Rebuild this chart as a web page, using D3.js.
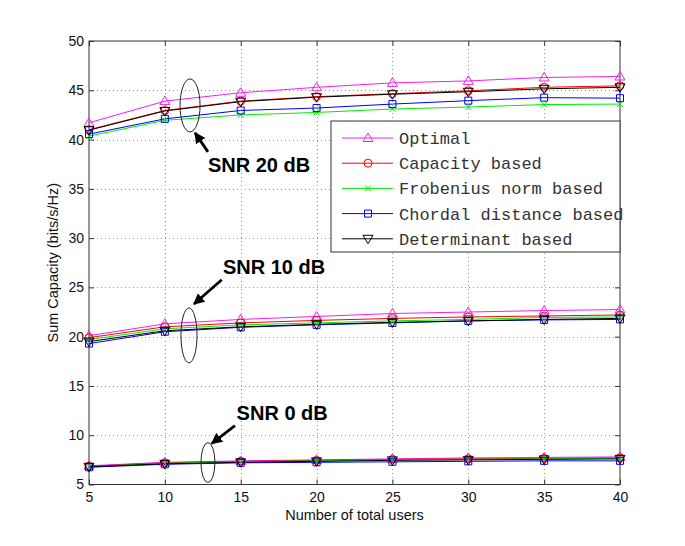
<!DOCTYPE html>
<html><head><meta charset="utf-8">
<script src="https://cdn.jsdelivr.net/npm/d3@7"></script>
<style>body{margin:0;background:#fff}svg{display:block}</style>
</head><body><div id="chart"></div>
<script>
// ---- data ----
const users = [5, 10, 15, 20, 25, 30, 35, 40];
const xTicks = [5, 10, 15, 20, 25, 30, 35, 40];
const yTicks = [5, 10, 15, 20, 25, 30, 35, 40, 45, 50];
const seriesNames = ["Optimal", "Capacity based", "Frobenius norm based", "Chordal distance based", "Determinant based"];
const seriesColors = ["#f020f0", "#ff0000", "#00ee00", "#0000ff", "#000000"];
const seriesSymbols = ["triUp", "circle", "x", "square", "triDown"];

// SNR 20 dB
const optimal20 = [41.7, 43.9, 44.75, 45.3, 45.75, 45.95, 46.3, 46.4];
const capacity20 = [41.0, 42.95, 43.9, 44.35, 44.65, 44.95, 45.3, 45.45];
const frobenius20 = [40.35, 41.95, 42.5, 42.75, 43.1, 43.3, 43.55, 43.6];
const chordal20 = [40.55, 42.1, 42.95, 43.2, 43.6, 43.95, 44.25, 44.2];
const determinant20 = [40.95, 42.9, 43.85, 44.3, 44.6, 44.85, 45.15, 45.3];
// SNR 10 dB
const optimal10 = [20.1, 21.3, 21.75, 22.05, 22.35, 22.5, 22.65, 22.75];
const capacity10 = [19.9, 21.0, 21.4, 21.65, 21.85, 22.0, 22.1, 22.2];
const frobenius10 = [19.7, 20.8, 21.2, 21.4, 21.6, 21.75, 21.95, 22.0];
const chordal10 = [19.3, 20.5, 20.95, 21.2, 21.4, 21.6, 21.7, 21.75];
const determinant10 = [19.5, 20.6, 21.0, 21.25, 21.45, 21.6, 21.75, 21.85];
// SNR 0 dB
const optimal0 = [6.9, 7.25, 7.4, 7.5, 7.6, 7.7, 7.75, 7.8];
const capacity0 = [6.85, 7.2, 7.35, 7.45, 7.55, 7.6, 7.65, 7.7];
const frobenius0 = [6.8, 7.15, 7.3, 7.4, 7.5, 7.55, 7.6, 7.65];
const chordal0 = [6.75, 7.05, 7.2, 7.25, 7.3, 7.35, 7.4, 7.4];
const determinant0 = [6.8, 7.1, 7.25, 7.35, 7.45, 7.5, 7.55, 7.6];

// annotations (data coordinates)
const annotLabels = ["SNR 20 dB", "SNR 10 dB", "SNR 0 dB"];
const annotTextPos = [[12.84, 36.75], [13.83, 26.36], [14.73, 11.59]];
const ellipseCenters = [[11.66, 43.46], [11.59, 20.13], [12.84, 7.23]];
const ellipseRadii = [[0.66, 2.69], [0.53, 2.79], [0.46, 2.03]];
const arrowTails = [[12.84, 38.75], [13.75, 25.78], [14.62, 10.98]];
const arrowTips = [[11.99, 40.68], [11.92, 23.31], [13.09, 9.16]];

const groups = [
  [optimal20, capacity20, frobenius20, chordal20, determinant20],
  [optimal10, capacity10, frobenius10, chordal10, determinant10],
  [optimal0, capacity0, frobenius0, chordal0, determinant0]
];

// ---- layout ----
const W = 685, H = 546;
const L = 89, R = 620, T = 41, B = 484.5;
const svg = d3.select("#chart").append("svg").attr("width", W).attr("height", H)
  .style("font-family", "'Liberation Sans', Arial, sans-serif");
const x = d3.scaleLinear().domain([5, 40]).range([L, R]);
const y = d3.scaleLinear().domain([5, 50]).range([B, T]);

// grid
const grid = svg.append("g").attr("stroke", "#999").attr("stroke-width", 1).attr("stroke-dasharray", "1,3");
grid.selectAll(".gx").data(xTicks.slice(1, -1)).enter().append("line")
  .attr("x1", d => Math.round(x(d)) + 0.5).attr("x2", d => Math.round(x(d)) + 0.5).attr("y1", T).attr("y2", B);
grid.selectAll(".gy").data(yTicks.slice(1, -1)).enter().append("line")
  .attr("y1", d => Math.round(y(d)) + 0.5).attr("y2", d => Math.round(y(d)) + 0.5).attr("x1", L).attr("x2", R);

// axes
const ax = svg.append("g").attr("transform", `translate(0,${B})`)
  .call(d3.axisBottom(x).tickValues(xTicks).tickSizeInner(-5).tickSizeOuter(0).tickPadding(8));
const ay = svg.append("g").attr("transform", `translate(${L},0)`)
  .call(d3.axisLeft(y).tickValues(yTicks).tickSizeInner(-5).tickSizeOuter(0).tickPadding(5));
const axTop = svg.append("g").attr("transform", `translate(0,${T})`)
  .call(d3.axisTop(x).tickValues(xTicks).tickSizeInner(-5).tickSizeOuter(0).tickFormat(""));
const ayR = svg.append("g").attr("transform", `translate(${R},0)`)
  .call(d3.axisRight(y).tickValues(yTicks).tickSizeInner(-5).tickSizeOuter(0).tickFormat(""));
[ax, ay, axTop, ayR].forEach(g => {
  g.select(".domain").remove();
  g.selectAll("line").attr("stroke", "#333");
  g.selectAll("text").attr("font-size", 14).attr("fill", "#111").attr("font-family", "'Liberation Sans', Arial, sans-serif");
});
svg.append("rect").attr("x", L).attr("y", T).attr("width", R - L).attr("height", B - T)
  .attr("fill", "none").attr("stroke", "#333").attr("stroke-width", 1);

// symbols
function symbolPath(kind) {
  switch (kind) {
    case "triUp": return "M0,-5L5,3.5L-5,3.5Z";
    case "triDown": return "M0,5L5,-3.5L-5,-3.5Z";
    case "circle": return d3.symbol(d3.symbolCircle, 50)();
    case "square": return "M-3.5,-3.5H3.5V3.5H-3.5Z";
    case "x": return "M-3,-3L3,3M-3,3L3,-3";
  }
}

// lines and markers
const line = d3.line().x((d, i) => x(users[i])).y(d => y(d));
const plot = svg.append("g");
groups.forEach(group => {
  group.forEach((vals, s) => {
    plot.append("path").attr("d", line(vals)).attr("fill", "none")
      .attr("stroke", seriesColors[s]).attr("stroke-width", 1);
  });
});
groups.forEach(group => {
  group.forEach((vals, s) => {
    plot.selectAll(null).data(vals).enter().append("path")
      .attr("d", symbolPath(seriesSymbols[s]))
      .attr("transform", (d, i) => `translate(${x(users[i])},${y(d)})`)
      .attr("fill", "none").attr("stroke", seriesColors[s]).attr("stroke-width", 1);
  });
});

// annotations
const defs = svg.append("defs");
defs.append("marker").attr("id", "ah").attr("viewBox", "0 0 10 10").attr("refX", 9).attr("refY", 5)
  .attr("markerWidth", 4).attr("markerHeight", 4).attr("markerUnits", "strokeWidth").attr("orient", "auto")
  .append("path").attr("d", "M0,0L10,5L0,10Z").attr("fill", "#000");
const ann = svg.append("g");
ellipseCenters.forEach((c, i) => {
  ann.append("ellipse").attr("cx", x(c[0])).attr("cy", y(c[1]))
    .attr("rx", x(c[0] + ellipseRadii[i][0]) - x(c[0]))
    .attr("ry", y(c[1] - ellipseRadii[i][1]) - y(c[1]))
    .attr("fill", "none").attr("stroke", "#222").attr("stroke-width", 1);
  ann.append("line").attr("x1", x(arrowTails[i][0])).attr("y1", y(arrowTails[i][1]))
    .attr("x2", x(arrowTips[i][0])).attr("y2", y(arrowTips[i][1]))
    .attr("stroke", "#000").attr("stroke-width", 2.8).attr("marker-end", "url(#ah)");
  ann.append("text").attr("x", x(annotTextPos[i][0])).attr("y", y(annotTextPos[i][1]))
    .attr("font-size", 20).attr("font-weight", "bold").attr("fill", "#000").text(annotLabels[i]);
});

// legend
const lg = svg.append("g");
const lgX = 331, lgY = 121, lgW = R - lgX, lgH = 131;
lg.append("rect").attr("x", lgX).attr("y", lgY).attr("width", lgW).attr("height", lgH)
  .attr("fill", "#fff").attr("stroke", "#333").attr("stroke-width", 1);
seriesNames.forEach((name, i) => {
  const yy = lgY + 17 + i * 25.2;
  lg.append("line").attr("x1", lgX + 11).attr("x2", lgX + 62).attr("y1", yy).attr("y2", yy)
    .attr("stroke", seriesColors[i]).attr("stroke-width", 1);
  lg.append("path").attr("d", symbolPath(seriesSymbols[i]))
    .attr("transform", `translate(${lgX + 37},${yy})`)
    .attr("fill", "none").attr("stroke", seriesColors[i]).attr("stroke-width", 1);
  lg.append("text").attr("x", lgX + 68).attr("y", yy).attr("dy", "0.35em")
    .attr("font-family", "'Liberation Mono', 'Courier New', monospace").attr("font-size", 17)
    .attr("fill", "#333").text(name);
});

// axis labels
svg.append("text").attr("x", (L + R) / 2).attr("y", 520).attr("text-anchor", "middle")
  .attr("font-size", 14.5).attr("fill", "#111").text("Number of total users");
svg.append("text").attr("transform", `translate(58,${(T + B) / 2}) rotate(-90)`).attr("text-anchor", "middle")
  .attr("font-size", 14.5).attr("fill", "#111").text("Sum Capacity (bits/s/Hz)");
</script></body></html>
